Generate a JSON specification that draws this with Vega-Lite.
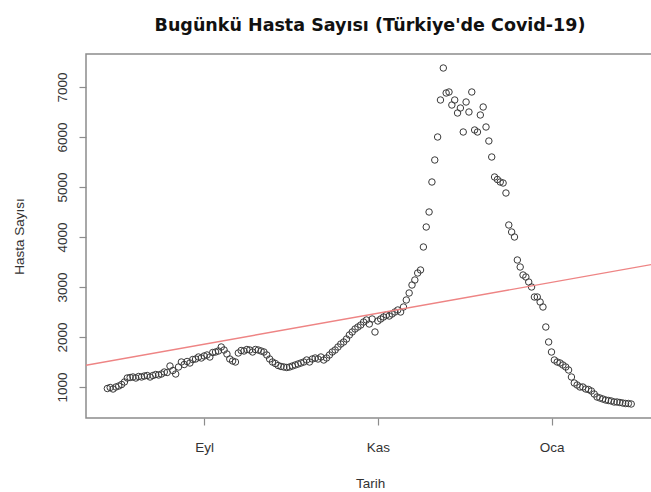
{
  "$schema": "https://vega.github.io/schema/vega-lite/v6.json",
  "autosize": {"type": "none"},
  "padding": {"left": 86, "top": 54, "right": -3, "bottom": 74},
  "width": 568,
  "height": 364,
  "background": "white",
  "config": {
    "view": {"stroke": "#8c8c8c", "strokeWidth": 1.5},
    "font": "Liberation Sans",
    "axis": {"grid": false, "domain": false, "tickColor": "#8c8c8c", "tickWidth": 1.2, "tickSize": 7, "labelFont": "Liberation Sans", "labelFontSize": 13.5, "labelColor": "#333", "titleFont": "Liberation Sans", "titleFontWeight": "normal", "titleFontSize": 13.5, "titleColor": "#333"}
  },
  "title": {"text": "Bugünkü Hasta Sayısı (Türkiye'de Covid-19)", "font": "DejaVu Sans", "fontSize": 17.5, "fontWeight": "bold", "color": "#111", "anchor": "middle", "offset": 20},
  "layer": [
    {
      "data": {"values": [
        {"t":"2020-07-29T00:00","v":970},{"t":"2020-07-30T00:00","v":990},{"t":"2020-07-31T00:00","v":960},
        {"t":"2020-08-01T00:00","v":1000},{"t":"2020-08-02T00:00","v":1020},{"t":"2020-08-03T00:00","v":1050},{"t":"2020-08-04T00:00","v":1100},{"t":"2020-08-05T00:00","v":1180},{"t":"2020-08-06T00:00","v":1190},{"t":"2020-08-07T00:00","v":1200},{"t":"2020-08-08T00:00","v":1180},{"t":"2020-08-09T00:00","v":1210},{"t":"2020-08-10T00:00","v":1200},{"t":"2020-08-11T00:00","v":1220},{"t":"2020-08-12T00:00","v":1230},{"t":"2020-08-13T00:00","v":1200},{"t":"2020-08-14T00:00","v":1230},{"t":"2020-08-15T00:00","v":1250},{"t":"2020-08-16T00:00","v":1240},{"t":"2020-08-17T00:00","v":1260},{"t":"2020-08-18T00:00","v":1300},{"t":"2020-08-19T00:00","v":1290},{"t":"2020-08-20T00:00","v":1420},{"t":"2020-08-21T00:00","v":1330},{"t":"2020-08-22T00:00","v":1260},{"t":"2020-08-23T00:00","v":1400},{"t":"2020-08-24T00:00","v":1500},{"t":"2020-08-25T00:00","v":1450},{"t":"2020-08-26T00:00","v":1510},{"t":"2020-08-27T00:00","v":1480},{"t":"2020-08-28T00:00","v":1550},{"t":"2020-08-29T00:00","v":1560},{"t":"2020-08-30T00:00","v":1600},{"t":"2020-08-31T00:00","v":1580},
        {"t":"2020-09-01T00:00","v":1620},{"t":"2020-09-02T00:00","v":1640},{"t":"2020-09-03T00:00","v":1600},{"t":"2020-09-04T00:00","v":1690},{"t":"2020-09-05T00:00","v":1700},{"t":"2020-09-06T00:00","v":1720},{"t":"2020-09-07T00:00","v":1800},{"t":"2020-09-08T00:00","v":1740},{"t":"2020-09-09T00:00","v":1660},{"t":"2020-09-10T00:00","v":1560},{"t":"2020-09-11T00:00","v":1520},{"t":"2020-09-12T00:00","v":1500},{"t":"2020-09-13T00:00","v":1680},{"t":"2020-09-14T00:00","v":1730},{"t":"2020-09-15T00:00","v":1720},{"t":"2020-09-16T00:00","v":1750},{"t":"2020-09-17T00:00","v":1740},{"t":"2020-09-18T00:00","v":1700},{"t":"2020-09-19T00:00","v":1750},{"t":"2020-09-20T00:00","v":1740},{"t":"2020-09-21T00:00","v":1720},{"t":"2020-09-22T00:00","v":1700},{"t":"2020-09-23T00:00","v":1640},{"t":"2020-09-24T00:00","v":1560},{"t":"2020-09-25T00:00","v":1500},{"t":"2020-09-26T00:00","v":1470},{"t":"2020-09-27T00:00","v":1430},{"t":"2020-09-28T00:00","v":1410},{"t":"2020-09-29T00:00","v":1400},{"t":"2020-09-30T00:00","v":1390},
        {"t":"2020-10-01T00:00","v":1400},{"t":"2020-10-02T00:00","v":1420},{"t":"2020-10-03T00:00","v":1440},{"t":"2020-10-04T00:00","v":1460},{"t":"2020-10-05T00:00","v":1480},{"t":"2020-10-06T00:00","v":1500},{"t":"2020-10-07T00:00","v":1540},{"t":"2020-10-08T00:00","v":1500},{"t":"2020-10-09T00:00","v":1560},{"t":"2020-10-10T00:00","v":1580},{"t":"2020-10-11T00:00","v":1560},{"t":"2020-10-12T00:00","v":1600},{"t":"2020-10-13T00:00","v":1540},{"t":"2020-10-14T00:00","v":1580},{"t":"2020-10-15T00:00","v":1640},{"t":"2020-10-16T00:00","v":1700},{"t":"2020-10-17T00:00","v":1740},{"t":"2020-10-18T00:00","v":1800},{"t":"2020-10-19T00:00","v":1860},{"t":"2020-10-20T00:00","v":1900},{"t":"2020-10-21T00:00","v":1960},{"t":"2020-10-22T00:00","v":2040},{"t":"2020-10-23T00:00","v":2100},{"t":"2020-10-24T00:00","v":2160},{"t":"2020-10-25T00:00","v":2200},{"t":"2020-10-26T00:00","v":2240},{"t":"2020-10-27T00:00","v":2300},{"t":"2020-10-28T00:00","v":2340},{"t":"2020-10-29T00:00","v":2260},{"t":"2020-10-30T00:00","v":2360},{"t":"2020-10-31T00:00","v":2100},
        {"t":"2020-11-01T00:00","v":2320},{"t":"2020-11-02T00:00","v":2360},{"t":"2020-11-03T00:00","v":2400},{"t":"2020-11-04T00:00","v":2440},{"t":"2020-11-05T00:00","v":2420},{"t":"2020-11-06T00:00","v":2460},{"t":"2020-11-07T00:00","v":2500},{"t":"2020-11-08T00:00","v":2540},{"t":"2020-11-09T00:00","v":2500},{"t":"2020-11-10T00:00","v":2600},{"t":"2020-11-11T00:00","v":2740},{"t":"2020-11-12T00:00","v":2880},{"t":"2020-11-13T00:00","v":3040},{"t":"2020-11-14T00:00","v":3140},{"t":"2020-11-15T00:00","v":3280},{"t":"2020-11-16T00:00","v":3340},{"t":"2020-11-17T00:00","v":3800},{"t":"2020-11-18T00:00","v":4200},{"t":"2020-11-19T00:00","v":4500},{"t":"2020-11-20T00:00","v":5100},{"t":"2020-11-21T00:00","v":5540},{"t":"2020-11-22T00:00","v":6000},{"t":"2020-11-23T00:00","v":6740},{"t":"2020-11-24T00:00","v":7380},{"t":"2020-11-25T00:00","v":6880},{"t":"2020-11-26T00:00","v":6900},{"t":"2020-11-27T00:00","v":6640},{"t":"2020-11-28T00:00","v":6740},{"t":"2020-11-29T00:00","v":6480},{"t":"2020-11-30T00:00","v":6580},
        {"t":"2020-12-01T00:00","v":6100},{"t":"2020-12-02T00:00","v":6700},{"t":"2020-12-03T00:00","v":6500},{"t":"2020-12-04T00:00","v":6900},{"t":"2020-12-05T00:00","v":6140},{"t":"2020-12-06T00:00","v":6100},{"t":"2020-12-07T00:00","v":6440},{"t":"2020-12-08T00:00","v":6600},{"t":"2020-12-09T00:00","v":6200},{"t":"2020-12-10T00:00","v":5920},{"t":"2020-12-11T00:00","v":5600},{"t":"2020-12-12T00:00","v":5200},{"t":"2020-12-13T00:00","v":5150},{"t":"2020-12-14T00:00","v":5100},{"t":"2020-12-15T00:00","v":5080},{"t":"2020-12-16T00:00","v":4880},{"t":"2020-12-17T00:00","v":4240},{"t":"2020-12-18T00:00","v":4100},{"t":"2020-12-19T00:00","v":4000},{"t":"2020-12-20T00:00","v":3540},{"t":"2020-12-21T00:00","v":3400},{"t":"2020-12-22T00:00","v":3240},{"t":"2020-12-23T00:00","v":3200},{"t":"2020-12-24T00:00","v":3100},{"t":"2020-12-25T00:00","v":3000},{"t":"2020-12-26T00:00","v":2800},{"t":"2020-12-27T00:00","v":2800},{"t":"2020-12-28T00:00","v":2700},{"t":"2020-12-29T00:00","v":2600},{"t":"2020-12-30T00:00","v":2200},{"t":"2020-12-31T00:00","v":1900},
        {"t":"2021-01-01T00:00","v":1700},{"t":"2021-01-02T00:00","v":1540},{"t":"2021-01-03T00:00","v":1500},{"t":"2021-01-04T00:00","v":1480},{"t":"2021-01-05T00:00","v":1440},{"t":"2021-01-06T00:00","v":1400},{"t":"2021-01-07T00:00","v":1340},{"t":"2021-01-08T00:00","v":1200},{"t":"2021-01-09T00:00","v":1080},{"t":"2021-01-10T00:00","v":1040},{"t":"2021-01-11T00:00","v":1000},{"t":"2021-01-12T00:00","v":1000},{"t":"2021-01-13T00:00","v":960},{"t":"2021-01-14T00:00","v":950},{"t":"2021-01-15T00:00","v":920},{"t":"2021-01-16T00:00","v":860},{"t":"2021-01-17T00:00","v":800},{"t":"2021-01-18T00:00","v":780},{"t":"2021-01-19T00:00","v":760},{"t":"2021-01-20T00:00","v":740},{"t":"2021-01-21T00:00","v":730},{"t":"2021-01-22T00:00","v":720},{"t":"2021-01-23T00:00","v":700},{"t":"2021-01-24T00:00","v":700},{"t":"2021-01-25T00:00","v":690},{"t":"2021-01-26T00:00","v":680},{"t":"2021-01-27T00:00","v":670},{"t":"2021-01-28T00:00","v":670},{"t":"2021-01-29T00:00","v":660}
      ]},
      "mark": {"type": "point", "shape": "circle", "filled": false, "size": 42, "stroke": "#3a3a3a", "strokeWidth": 1, "opacity": 1},
      "encoding": {
        "x": {"field": "t", "type": "temporal", "title": "Tarih",
          "scale": {"domain": [{"year": 2020, "month": 7, "date": 21, "hours": 12}, {"year": 2021, "month": 2, "date": 6}], "nice": false},
          "axis": {"values": [{"year": 2020, "month": 9, "date": 1}, {"year": 2020, "month": 11, "date": 1}, {"year": 2021, "month": 1, "date": 1}],
            "labelExpr": "month(datum.value)==8 ? 'Eyl' : month(datum.value)==10 ? 'Kas' : 'Oca'",
            "labelPadding": 15, "titlePadding": 23}},
        "y": {"field": "v", "type": "quantitative", "title": "Hasta Sayısı",
          "scale": {"domain": [380, 7660], "nice": false, "zero": false},
          "axis": {"values": [1000, 2000, 3000, 4000, 5000, 6000, 7000], "format": "d", "labelAngle": -90, "labelAlign": "center", "labelBaseline": "bottom", "labelPadding": 10, "titlePadding": 29}}
      }
    },
    {
      "data": {"values": [{"t": "2020-07-21T12:00", "v": 1436}, {"t": "2021-02-06T00:00", "v": 3458}]},
      "mark": {"type": "line", "color": "#ee8484", "strokeWidth": 1.4, "clip": true},
      "encoding": {
        "x": {"field": "t", "type": "temporal"},
        "y": {"field": "v", "type": "quantitative"}
      }
    }
  ]
}
